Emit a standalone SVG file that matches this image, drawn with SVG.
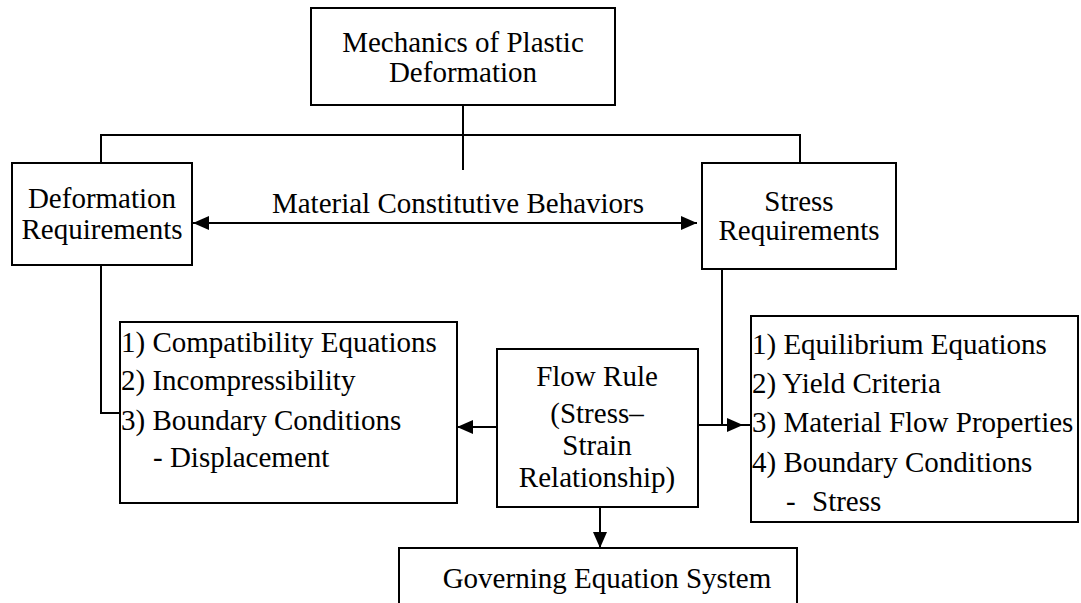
<svg xmlns="http://www.w3.org/2000/svg" width="1081" height="603" viewBox="0 0 1081 603">
<defs>
<style>
.box{fill:#fff;stroke:#000;stroke-width:2}
.t{font-family:"Liberation Serif","Times New Roman",serif;font-size:29px;fill:#000}
.c{text-anchor:middle}
.ln{fill:none;stroke:#000;stroke-width:2}
</style>
<marker id="ah" viewBox="0 0 16 14" refX="16" refY="7" markerWidth="16" markerHeight="14" markerUnits="userSpaceOnUse" orient="auto-start-reverse">
<path d="M0,0 L16,7 L0,14 z" fill="#000"/>
</marker>
</defs>
<rect width="1081" height="603" fill="#fff"/>
<g id="connectors">
<path class="ln" d="M463,105 V170" stroke-width="3"/>
<path class="ln" d="M101,163 V135 H800 V163"/>
<path class="ln" d="M193,223 H697" marker-start="url(#ah)" marker-end="url(#ah)"/>
<path class="ln" d="M101,265 V413 H120"/>
<path class="ln" d="M722,269 V425"/>
<path class="ln" d="M698,425 H743" marker-end="url(#ah)"/>
<path class="ln" d="M742,425 H752"/>
<path class="ln" d="M497,427 H457" marker-end="url(#ah)"/>
<path class="ln" d="M600,507 V548" marker-end="url(#ah)"/>
</g>
<g id="node-mechanics">
<rect class="box" x="311" y="8" width="304" height="97"/>
<text class="t c" x="463" y="52">Mechanics of Plastic</text>
<text class="t c" x="463" y="82">Deformation</text>
</g>
<g id="node-deformation">
<rect class="box" x="12" y="163" width="180" height="102"/>
<text class="t c" x="102" y="208">Deformation</text>
<text class="t c" x="102" y="239">Requirements</text>
</g>
<g id="node-material">
<text class="t c" x="458" y="213">Material Constitutive Behaviors</text>
</g>
<g id="node-stress">
<rect class="box" x="702" y="163" width="194" height="106"/>
<text class="t c" x="799" y="211">Stress</text>
<text class="t c" x="799" y="240">Requirements</text>
</g>
<g id="node-compat">
<rect class="box" x="120" y="322" width="337" height="181"/>
<text class="t" x="121" y="352">1) Compatibility Equations</text>
<text class="t" x="121" y="390">2) Incompressibility</text>
<text class="t" x="121" y="430">3) Boundary Conditions</text>
<text class="t" x="153" y="467">- Displacement</text>
</g>
<g id="node-flow">
<rect class="box" x="497" y="349" width="201" height="158"/>
<text class="t c" x="597" y="386">Flow Rule</text>
<text class="t c" x="597" y="423">(Stress–</text>
<text class="t c" x="597" y="455">Strain</text>
<text class="t c" x="597" y="487">Relationship)</text>
</g>
<g id="node-equil">
<rect class="box" x="751" y="316" width="327" height="206"/>
<text class="t" x="752" y="354">1) Equilibrium Equations</text>
<text class="t" x="752" y="393">2) Yield Criteria</text>
<text class="t" x="752" y="432">3) Material Flow Properties</text>
<text class="t" x="752" y="472">4) Boundary Conditions</text>
<text class="t" x="786" y="511">-<tspan x="812">Stress</tspan></text>
</g>
<g id="node-governing">
<rect class="box" x="399" y="548" width="398" height="60"/>
<text class="t c" x="607" y="588">Governing Equation System</text>
</g>
</svg>
